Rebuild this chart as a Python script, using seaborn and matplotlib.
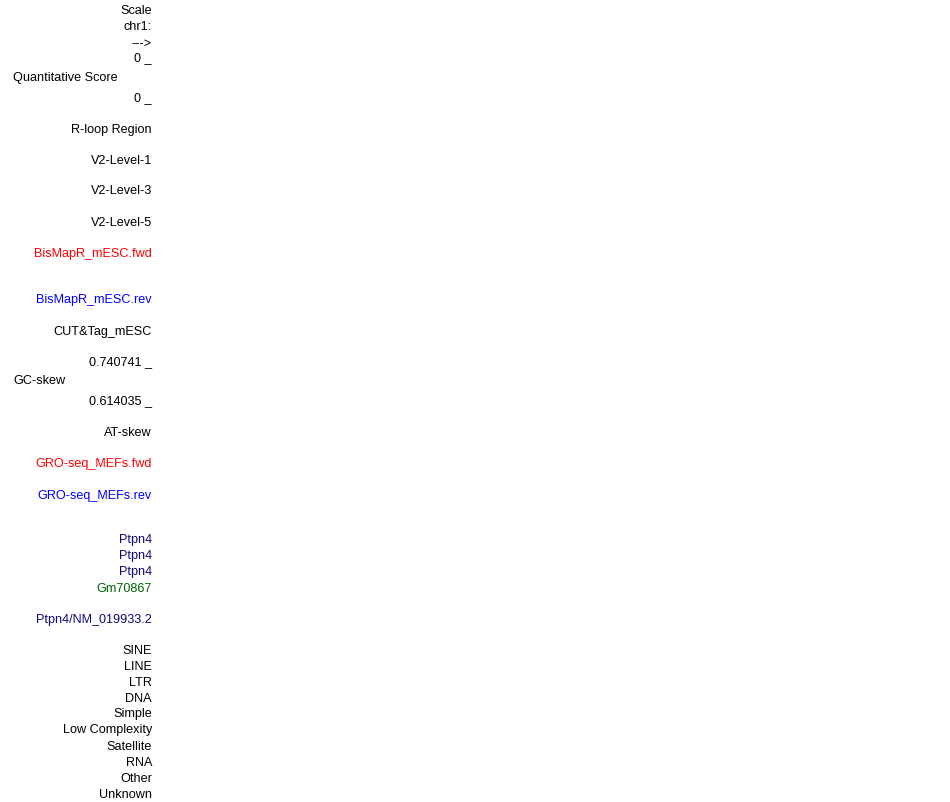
import matplotlib
matplotlib.use("Agg")
import matplotlib.pyplot as plt
import seaborn as sns

# track labels, top to bottom (genome browser left label column, no data drawn)
labels = [
    "Scale", "chr1:", "--->", "0 _", "Quantitative Score", "0 _",
    "R-loop Region", "V2-Level-1", "V2-Level-3", "V2-Level-5",
    "BisMapR_mESC.fwd", "BisMapR_mESC.rev", "CUT&Tag_mESC",
    "0.740741 _", "GC-skew", "0.614035 _", "AT-skew",
    "GRO-seq_MEFs.fwd", "GRO-seq_MEFs.rev",
    "Ptpn4", "Ptpn4", "Ptpn4", "Gm70867", "Ptpn4/NM_019933.2",
    "SINE", "LINE", "LTR", "DNA", "Simple", "Low Complexity",
    "Satellite", "RNA", "Other", "Unknown",
]
label_kind = [
    "k", "k", "k", "k", "k", "k",
    "k", "k", "k", "k",
    "fwd", "rev", "k",
    "k", "k", "k", "k",
    "fwd", "rev",
    "gene", "gene", "gene", "ncgene", "gene",
    "k", "k", "k", "k", "k", "k",
    "k", "k", "k", "k",
]
left_aligned = {"Quantitative Score", "GC-skew"}

# layout (pixel rows of each label centre)
y_pix = [10, 26, 42, 57, 77, 97,
         128, 159, 190, 221,
         253, 299, 330,
         361, 380, 400, 432,
         463, 494,
         539, 555, 571, 587, 618,
         649, 665, 681, 697, 713, 729,
         745, 761, 777, 793]

colors = {"k": "#000000", "fwd": "#ff0000", "rev": "#0000ff",
          "gene": "#0c0c78", "ncgene": "#006400"}

sns.set_theme(style="white")
plt.rcParams['font.family'] = ['Liberation Sans', 'DejaVu Sans']

fig = plt.figure(figsize=(9.5, 8.02), dpi=100)
ax = fig.add_axes([0, 0, 1, 1])
ax.set_xlim(0, 950)
ax.set_ylim(802, 0)
ax.axis('off')

for lab, kind, y in zip(labels, label_kind, y_pix):
    if lab in left_aligned:
        ax.text(13, y + 1.5, lab, ha='left', va='center', fontsize=9.1,
                color=colors[kind])
    else:
        ax.text(152, y + 1.5, lab, ha='right', va='center', fontsize=9.1,
                color=colors[kind])

fig.savefig("out.png", dpi=100, facecolor='white')
